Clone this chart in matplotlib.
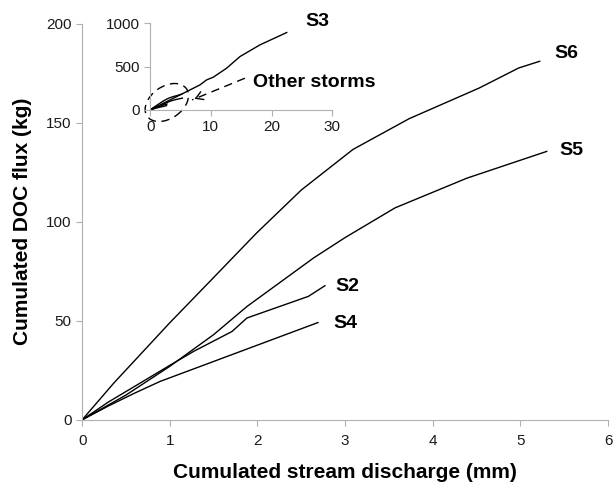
import matplotlib.pyplot as plt
import matplotlib.transforms as mtransforms
from matplotlib.patches import Ellipse

plt.rcParams['font.family'] = ['Liberation Sans', 'DejaVu Sans']

# storm curves (cumulated discharge mm, cumulated DOC flux kg)
s2_x = [0, 0.3, 0.66, 1.0, 1.27, 1.71, 1.88, 2.58, 2.77]
s2_y = [0, 9, 18.5, 27.5, 34.5, 44.6, 51.4, 62.3, 67.7]
s4_x = [0, 0.3, 0.6, 0.89, 2.69]
s4_y = [0, 7, 13.5, 19.4, 49.1]
s5_x = [0, 0.5, 1.0, 1.5, 1.88, 2.64, 3.0, 3.57, 4.39, 5.3]
s5_y = [0, 12.5, 27, 43, 57.2, 81.7, 92, 107, 122, 135.5]
s6_x = [0, 0.36, 1.0, 1.46, 1.99, 2.5, 3.09, 3.73, 4.53, 4.98, 5.22]
s6_y = [0, 18.5, 49, 70, 94.3, 116, 136.5, 152, 167.5, 177.6, 181]
s3_x = [0, 4.39, 8.2, 9.3, 10.4, 12.6, 14.8, 18.1, 22.5]
s3_y = [0, 154, 288, 346, 377, 481, 615, 750, 892]

labels = ['S2', 'S4', 'S5', 'S6']
label_pos = [(3.03, 67.5), (3.0, 48.5), (5.58, 136), (5.52, 185)]

fig = plt.figure(figsize=(6.13, 4.82), dpi=100)
ax = fig.add_axes([0.134, 0.129, 0.858, 0.822])

for xs, ys in [(s2_x, s2_y), (s4_x, s4_y), (s5_x, s5_y), (s6_x, s6_y)]:
    ax.plot(xs, ys, color='black', lw=1.0)
for lab, (lx, ly) in zip(labels, label_pos):
    ax.text(lx, ly, lab, fontsize=14, fontweight='bold', ha='center', va='center',
            clip_on=False)

ax.set_xlim(0, 6)
ax.set_ylim(0, 200)
ax.set_xticks(range(0, 7))
ax.set_yticks(range(0, 201, 50))
ax.set_xlabel('Cumulated stream discharge (mm)', fontsize=15, fontweight='bold', labelpad=11)
ax.set_ylabel('Cumulated DOC flux (kg)', fontsize=15, fontweight='bold', labelpad=10)

# inset with S3
ax_in = fig.add_axes([0.245, 0.772, 0.297, 0.18])
ax_in.plot(s3_x, s3_y, color='black', lw=1.0)
for xs, ys in [(s2_x, s2_y), (s4_x, s4_y), (s5_x, s5_y), (s6_x, s6_y)]:
    ax_in.plot(xs, ys, color='black', lw=1.0)
ax_in.set_xlim(0, 30)
ax_in.set_ylim(0, 1000)
ax_in.set_xticks([0, 10, 20, 30])
ax_in.set_yticks([0, 500, 1000])
ax_in.text(27.6, 1020, 'S3', fontsize=14, fontweight='bold', ha='center', va='center',
           clip_on=False)
ax_in.text(16.9, 320, 'Other storms', fontsize=14, fontweight='bold', ha='left', va='center',
           clip_on=False)

# dashed pointer to the circled storms, solid open head
ax_in.plot([15.6, 6.9], [365, 115], color='black', lw=1.0, linestyle=(0, (6, 4)),
           clip_on=False)
ax_in.annotate('', xy=(6.9, 115), xytext=(8.0, 147),
               arrowprops=dict(arrowstyle='->,head_length=0.5,head_width=0.3',
                               lw=1.0, color='black'),
               annotation_clip=False)
trans = fig.dpi_scale_trans + mtransforms.ScaledTranslation(2.74, 85, ax_in.transData)
ax_in.add_patch(Ellipse((0, 0), 0.48, 0.32, angle=35, fill=False, linestyle=(0, (6, 4)),
                        lw=1.0, color='black', transform=trans, clip_on=False))

for a in (ax, ax_in):
    a.spines['top'].set_visible(False)
    a.spines['right'].set_visible(False)
    a.spines['left'].set_color('#b0b0b0')
    a.spines['bottom'].set_color('#b0b0b0')
    a.tick_params(colors='#b0b0b0', labelcolor='#1a1a1a', labelsize=11, length=4)
    a.patch.set_alpha(0)
ax.tick_params(axis='x', pad=6)

fig.savefig('out.png', dpi=100)
